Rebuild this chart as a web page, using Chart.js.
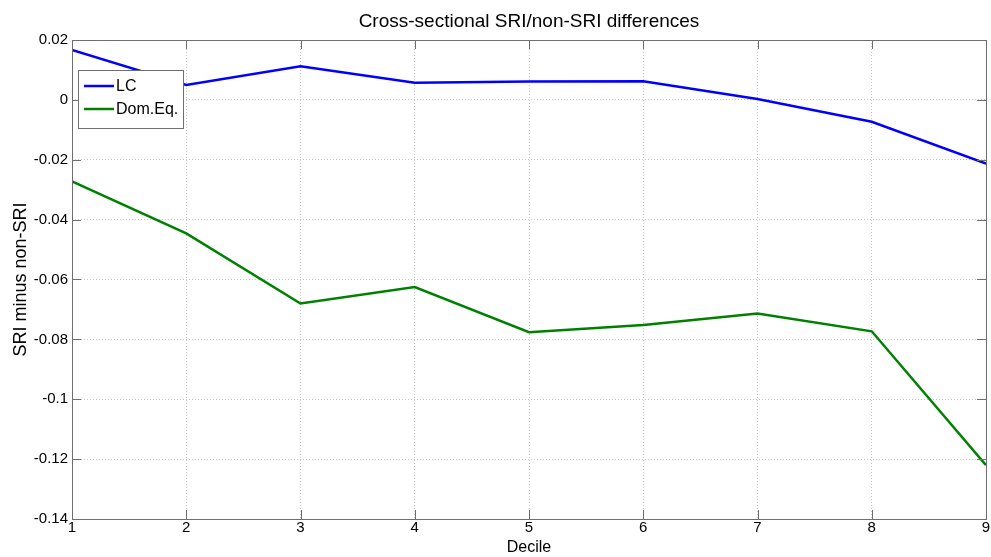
<!DOCTYPE html>
<html>
<head>
<meta charset="utf-8">
<script src="https://cdn.jsdelivr.net/npm/chart.js@4"></script>
<style>
  html, body { margin: 0; padding: 0; background: #fff; }
  #wrap { width: 991px; height: 557px; position: relative; }
</style>
</head>
<body>
<div id="wrap"><canvas id="c"></canvas></div>
<script>
// ── Data ─────────────────────────────────────────────
var deciles   = [1, 2, 3, 4, 5, 6, 7, 8, 9];
var lcValues  = [0.0167, 0.0050, 0.0112, 0.0057, 0.0061, 0.0062, 0.0003, -0.0073, -0.0213];
var domValues = [-0.0272, -0.0446, -0.0680, -0.0625, -0.0776, -0.0752, -0.0714, -0.0773, -0.1220];
var yTicks    = [0.02, 0, -0.02, -0.04, -0.06, -0.08, -0.1, -0.12, -0.14];

var titleText = 'Cross-sectional SRI/non-SRI differences';
var axisColor = '#6e6e6e';
var FONT = 'Liberation Sans, Arial, sans-serif';

function pts(vals) {
  return deciles.map(function(d, i){ return { x: d, y: vals[i] }; });
}

// ── Box, inward ticks, title, legend (MATLAB look) ───
var matlabFrame = {
  id: 'matlabFrame',
  afterDraw: function(chart) {
    var ctx = chart.ctx, a = chart.chartArea;
    var xs = chart.scales.x, ys = chart.scales.y;
    ctx.save();
    ctx.strokeStyle = axisColor;
    ctx.lineWidth = 1;
    ctx.beginPath();
    deciles.forEach(function(d){
      var px = Math.round(xs.getPixelForValue(d)) + 0.5;
      ctx.moveTo(px, a.bottom); ctx.lineTo(px, a.bottom - 9);
      ctx.moveTo(px, a.top);    ctx.lineTo(px, a.top + 9);
    });
    yTicks.forEach(function(v){
      var py = Math.round(ys.getPixelForValue(v)) + 0.5;
      ctx.moveTo(a.left, py);  ctx.lineTo(a.left + 9, py);
      ctx.moveTo(a.right, py); ctx.lineTo(a.right - 9, py);
    });
    ctx.stroke();
    ctx.strokeRect(Math.round(a.left) + 0.5, Math.round(a.top) + 0.5,
                   Math.round(a.right - a.left), Math.round(a.bottom - a.top));

    // title
    ctx.fillStyle = '#000';
    ctx.font = '19px ' + FONT;
    ctx.textAlign = 'center';
    ctx.textBaseline = 'middle';
    ctx.fillText(titleText, (a.left + a.right) / 2, 22);

    // legend
    var lx = 78, ly = 70, lw = 105, lh = 58;
    ctx.fillStyle = '#fff';
    ctx.fillRect(lx, ly, lw, lh);
    ctx.strokeStyle = axisColor;
    ctx.strokeRect(lx + 0.5, ly + 0.5, lw, lh);
    ctx.font = '16px ' + FONT;
    ctx.textAlign = 'left';
    chart.data.datasets.forEach(function(ds, i){
      var y = ly + 16 + i * 23;
      ctx.strokeStyle = ds.borderColor;
      ctx.lineWidth = 2.5;
      ctx.beginPath(); ctx.moveTo(lx + 6, y); ctx.lineTo(lx + 36, y); ctx.stroke();
      ctx.fillStyle = '#000';
      ctx.fillText(ds.label, lx + 38, y + 1);
    });
    ctx.restore();
  }
};

var gridDash = {
  color: '#c4c4c4',
  lineWidth: 1,
  drawTicks: false,
  tickLength: 0
};

new Chart(document.getElementById('c'), {
  type: 'line',
  data: {
    datasets: [
      { label: 'LC', data: pts(lcValues), borderColor: '#0000ff', borderWidth: 2.5,
        pointRadius: 0, tension: 0, fill: false },
      { label: 'Dom.Eq.', data: pts(domValues), borderColor: '#008000', borderWidth: 2.5,
        pointRadius: 0, tension: 0, fill: false }
    ]
  },
  options: {
    responsive: true,
    maintainAspectRatio: false,
    animation: false,
    layout: { padding: { top: 40, right: 5, left: 0, bottom: 0 } },
    plugins: { legend: { display: false }, title: { display: false }, tooltip: { enabled: false } },
    scales: {
      x: {
        type: 'linear', min: 1, max: 9,
        afterFit: function(s){ s.height = 38; },
        afterBuildTicks: function(s){ s.ticks = deciles.map(function(v){ return { value: v }; }); },
        grid: gridDash,
        border: { display: false, dash: [1, 2] },
        ticks: { color: '#000', font: { size: 15, family: FONT }, padding: 0, maxRotation: 0,
                 callback: function(v){ return String(v); } },
        title: { display: true, text: 'Decile', color: '#000', font: { size: 16, family: FONT },
                 padding: { top: 0, bottom: 0 } }
      },
      y: {
        min: -0.14, max: 0.02,
        afterFit: function(s){ s.width = 72; },
        afterBuildTicks: function(s){ s.ticks = yTicks.map(function(v){ return { value: v }; }); },
        grid: gridDash,
        border: { display: false, dash: [1, 2] },
        ticks: { color: '#000', font: { size: 15, family: FONT }, padding: 4,
                 callback: function(v){ return String(Math.round(v * 100) / 100); } },
        title: { display: true, text: 'SRI minus non-SRI', color: '#000', font: { size: 18, family: FONT },
                 padding: { top: 10, bottom: 0 } }
      }
    }
  },
  plugins: [matlabFrame]
});
</script>
</body>
</html>
